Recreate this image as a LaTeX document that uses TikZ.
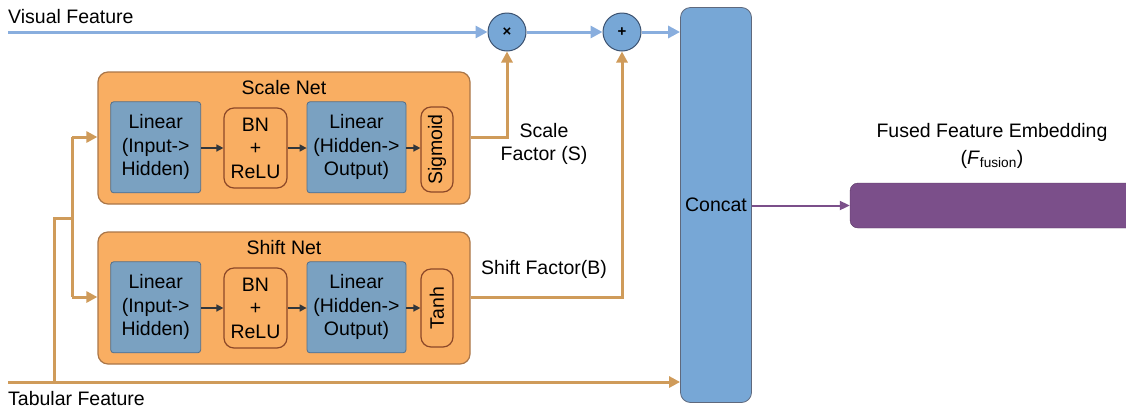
\documentclass[tikz,border=0pt]{standalone}
\usepackage{fontspec}
\setmainfont{Liberation Sans}
\usetikzlibrary{arrows.meta}
\definecolor{orngf}{RGB}{249,174,98}
\definecolor{orngd}{RGB}{170,118,72}
\definecolor{bnd}{RGB}{140,72,40}
\definecolor{linf}{RGB}{122,161,193}
\definecolor{lind}{RGB}{82,110,138}
\definecolor{concf}{RGB}{119,167,214}
\definecolor{concd}{RGB}{95,105,125}
\definecolor{circd}{RGB}{60,82,112}
\definecolor{visl}{RGB}{137,174,222}
\definecolor{tabl}{RGB}{207,155,90}
\definecolor{purp}{RGB}{123,79,138}
\definecolor{darkarr}{RGB}{50,55,60}
\tikzset{
  txt/.style={font=\fontsize{19.5}{23.5}\selectfont, align=center, inner sep=0pt},
  net/.style={draw=orngd, fill=orngf, line width=1.2pt, rounded corners=10pt, minimum width=372pt, minimum height=132pt, inner sep=0pt},
  linbox/.style={txt, draw=lind, fill=linf, line width=0.8pt, rounded corners=3pt, minimum height=91pt},
  bnbox/.style={txt, draw=bnd, fill=orngf, line width=1.2pt, rounded corners=10pt, minimum width=63pt, minimum height=80pt},
  actbox/.style={txt, draw=bnd, fill=orngf, line width=1.2pt, rounded corners=10pt, rotate=90, minimum height=32pt},
  opc/.style={circle, draw=circd, fill=concf, line width=1pt, minimum size=38pt, inner sep=0pt, font=\fontsize{15}{15}\selectfont\bfseries},
  inarr/.style={draw=darkarr, line width=1.5pt, -{Triangle[length=7pt,width=7pt]}},
  visarr/.style={draw=visl, line width=3pt, -{Triangle[length=12pt,width=12pt]}},
  tabarr/.style={draw=tabl, line width=3pt, -{Triangle[length=11pt,width=11pt]}},
  tabline/.style={draw=tabl, line width=3pt},
  purarr/.style={draw=purp, line width=2pt, -{Triangle[length=10pt,width=9pt]}},
  sidelbl/.style={font=\fontsize{19.5}{23.5}\selectfont, inner sep=0pt, anchor=west}
}
\begin{document}
\begin{tikzpicture}[x=1pt,y=-1pt]
\useasboundingbox (0,0) rectangle (1126,408);

% Nets
\node[net] (scalenet) at (284,138) {};
\node[txt] (scalelbl) at (284,88) {Scale Net};
\node[linbox, minimum width=90pt] (sl1) at (155.7,147.3) {Linear\\(Input-{}>\\Hidden)};
\node[bnbox] (sbn) at (255.5,148) {BN\\+\\ReLU};
\node[linbox, minimum width=99pt] (sl2) at (356.5,147.3) {Linear\\(Hidden-{}>\\Output)};
\node[actbox, minimum width=85pt] (sig) at (437,149.5) {Sigmoid};
\draw[inarr] (sl1.east |- sbn) -- (sbn.west);
\draw[inarr] (sbn.east) -- (sl2.west |- sbn);
\draw[inarr] (sl2.east |- sbn) -- (sig.north |- sbn);

\node[net] (shiftnet) at (284,298) {};
\node[txt] (shiftlbl) at (284,248) {Shift Net};
\node[linbox, minimum width=90pt] (hl1) at (155.7,307.3) {Linear\\(Input-{}>\\Hidden)};
\node[bnbox] (hbn) at (255.5,308) {BN\\+\\ReLU};
\node[linbox, minimum width=99pt] (hl2) at (356.5,307.3) {Linear\\(Hidden-{}>\\Output)};
\node[actbox, minimum width=78pt] (tanh) at (437,308) {Tanh};
\draw[inarr] (hl1.east |- hbn) -- (hbn.west);
\draw[inarr] (hbn.east) -- (hl2.west |- hbn);
\draw[inarr] (hl2.east |- hbn) -- (tanh.north |- hbn);

% Operators and concat
\node[opc] (mul) at (507,32) {×};
\node[opc] (add) at (622,32) {+};
\node[txt, draw=concd, fill=concf, line width=0.8pt, rounded corners=10pt, minimum width=71pt, minimum height=395pt] (concat) at (716,205) {Concat};

% Fused
\node[draw=purp!70!black, fill=purp, rounded corners=8pt, minimum width=290pt, minimum height=45pt, inner sep=0pt] (fused) at (995,205.5) {};
\node[txt] (fusedlbl) at (992,132) {Fused Feature Embedding};
\node[txt] (fusedsym) at (992,159) {(\textit{F}\textsubscript{fusion})};

% Labels
\node[sidelbl] (vislbl) at (8,17) {Visual Feature};
\node[sidelbl] (tablbl) at (8,399) {Tabular Feature};
\node[txt] (sflbl) at (544,144) {Scale\\Factor (S)};
\node[txt] (bflbl) at (544,269) {Shift Factor(B)};

% Visual path
\coordinate (vstart) at (8,32);
\draw[visarr] (vstart) -- (mul.west);
\draw[visarr] (mul.east) -- (add.west);
\draw[visarr] (add.east) -- (add -| concat.west);

% Tabular path
\coordinate (tstart) at (8,382);
\coordinate (br1) at (54,382);
\coordinate (br2) at (54,218);
\coordinate (bt) at (72,137);
\coordinate (bb) at (72,297);
\draw[tabarr] (tstart) -- (tstart -| concat.west);
\draw[tabline] (br1) -- (br2) -- (br2 -| bt);
\draw[tabline] (bt) -- (bb);
\draw[tabarr] (bt) -- (bt -| scalenet.west);
\draw[tabarr] (bb) -- (bb -| shiftnet.west);

% Net outputs
\coordinate (so) at (470,137);
\coordinate (ho) at (470,297);
\draw[tabarr] (so -| scalenet.east) -| (mul.south);
\draw[tabarr] (ho -| shiftnet.east) -| (add.south);

% Concat to fused
\draw[purarr] (concat.east |- fused) -- (fused.west);
\end{tikzpicture}
\end{document}
